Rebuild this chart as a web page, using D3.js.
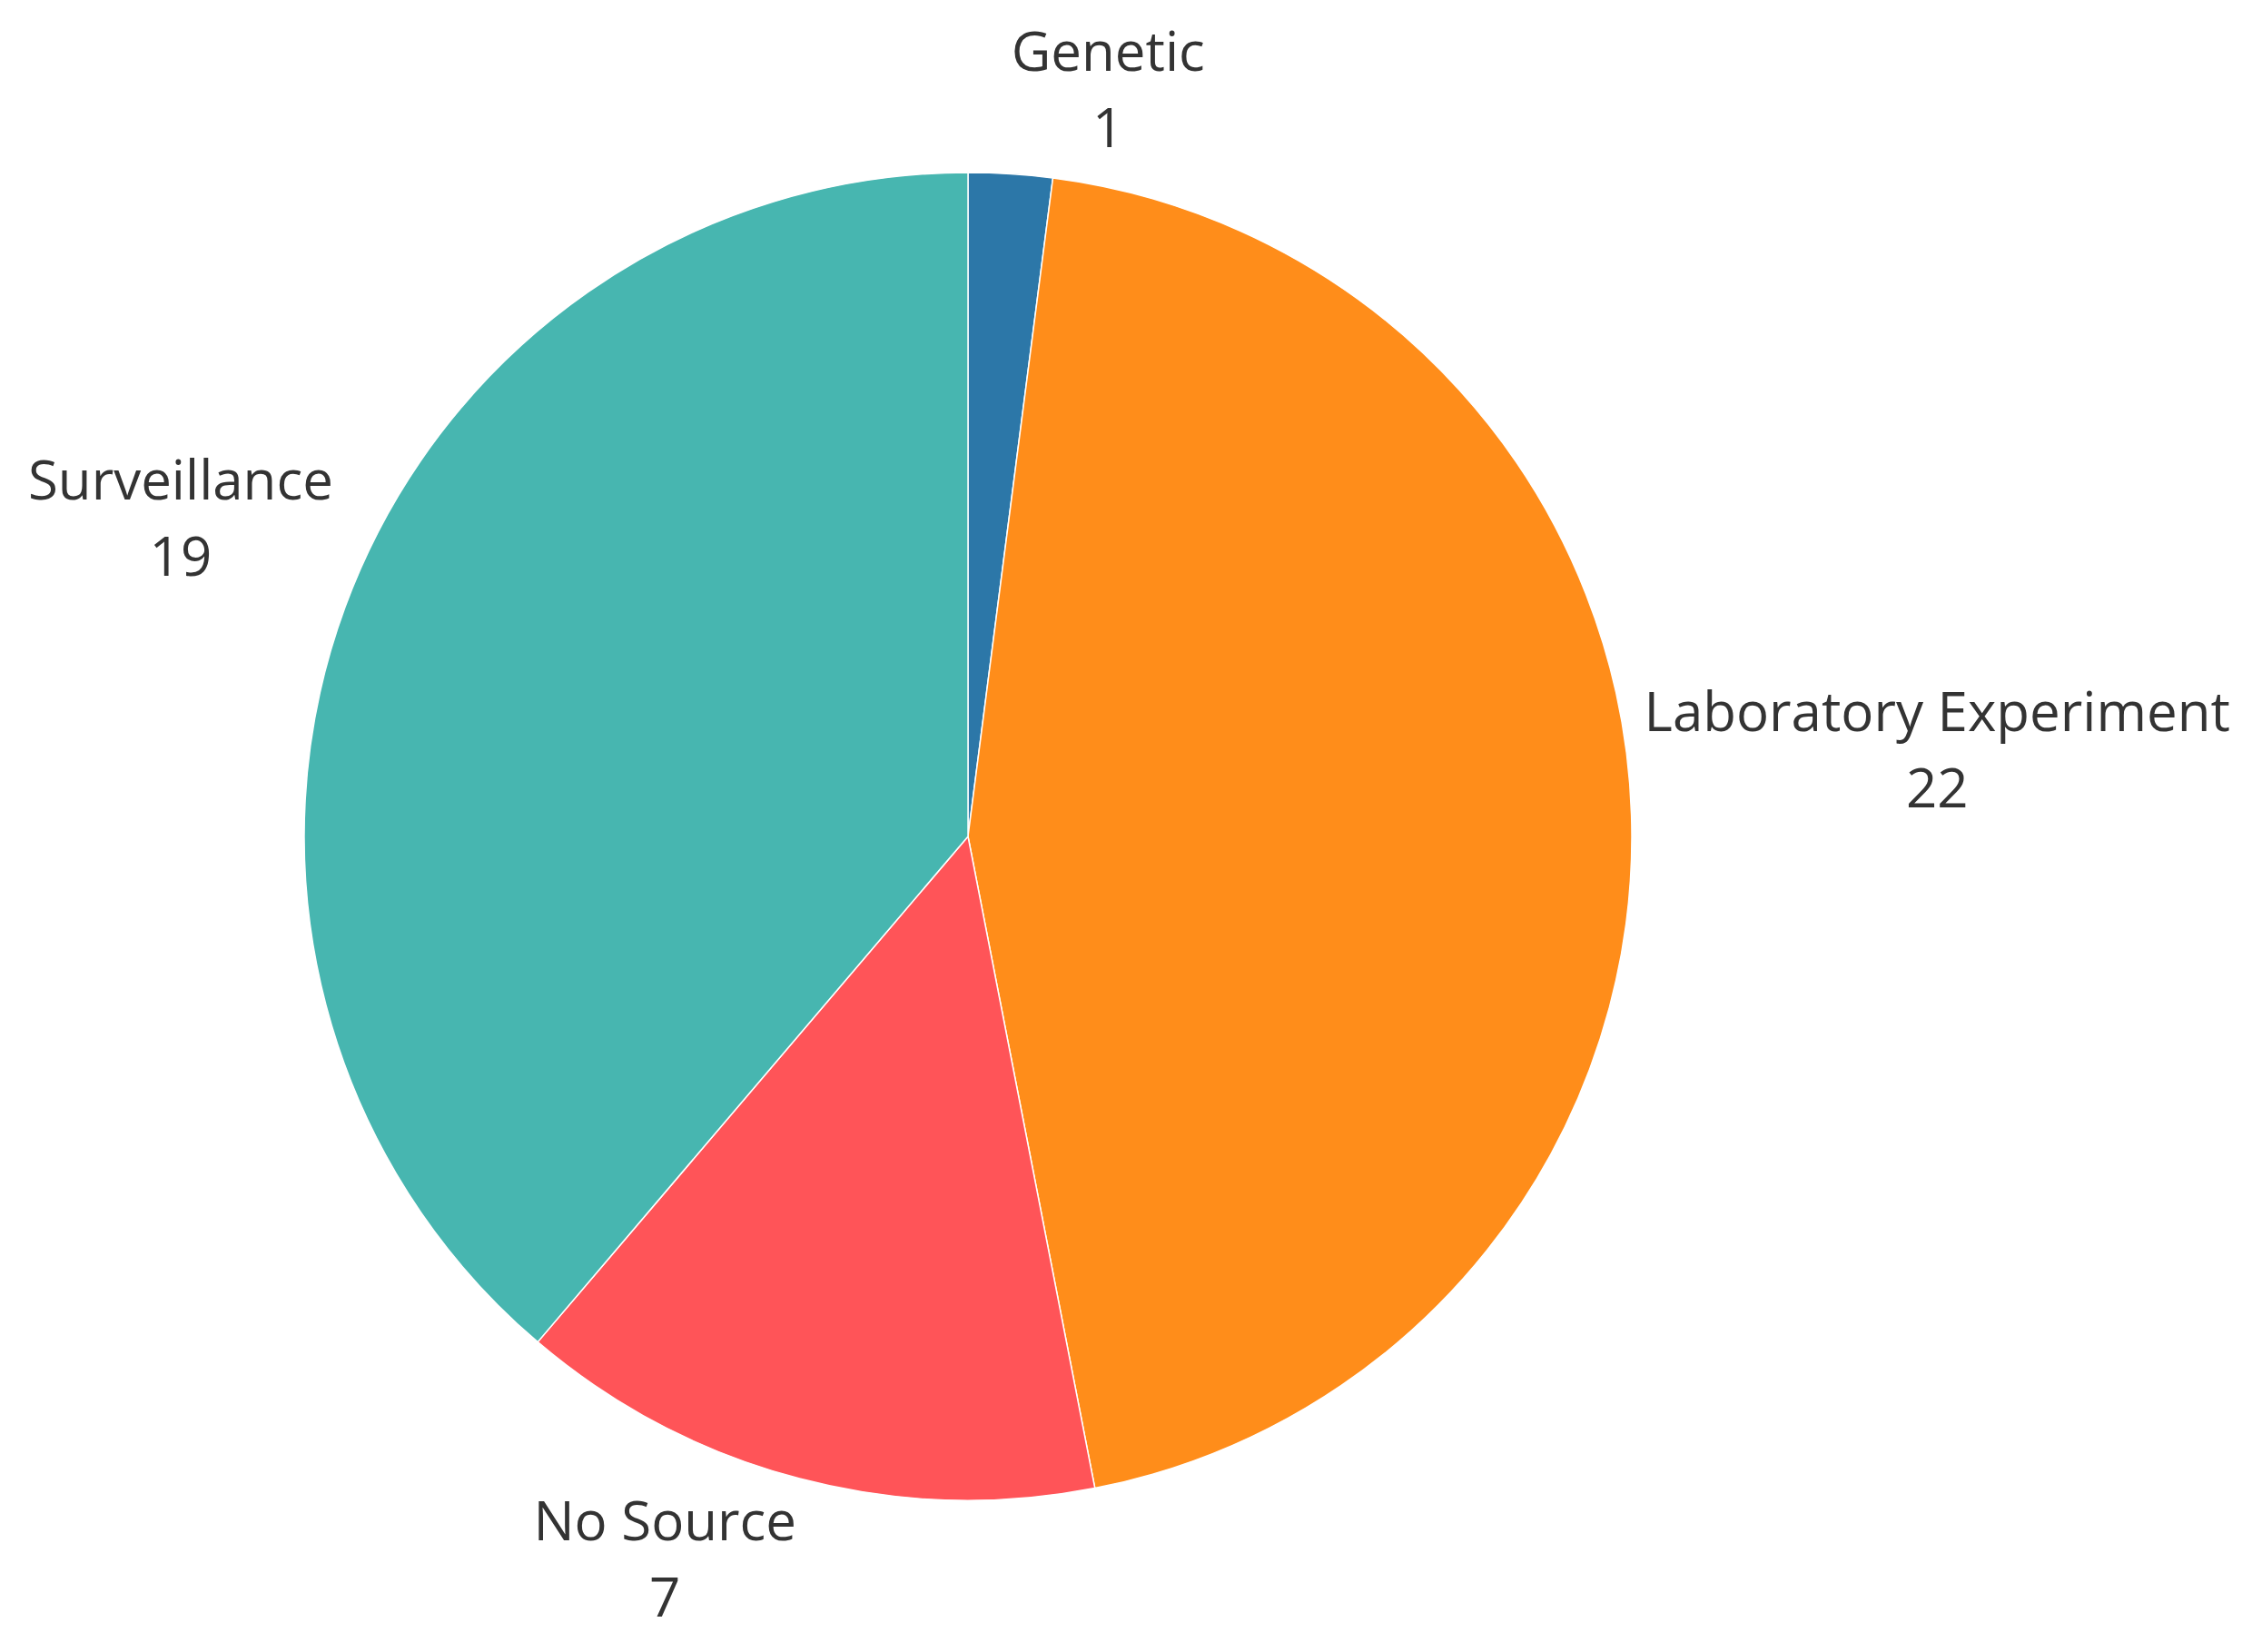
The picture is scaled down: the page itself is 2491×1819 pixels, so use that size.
<!DOCTYPE html>
<html><head><meta charset="utf-8">
<script src="https://cdn.jsdelivr.net/npm/d3@7"></script>
<style>body{margin:0;background:#fff}text{font-family:"Open Sans","Noto Sans",sans-serif;fill:#333}</style>
</head><body>
<svg id="chart" width="2491" height="1819"></svg>
<script>
const categories = ["Genetic", "Laboratory Experiment", "No Source", "Surveillance"];
const counts = [1, 22, 7, 19];
const colors = ["#2c77a8", "#ff8d1a", "#ff5458", "#47b6b0"];

const W = 2491, H = 1819, cx = 1066, cy = 921, R = 731;
const fontSize = 60, lineH = 84, gap = 14;

const svg = d3.select("#chart");
const g = svg.append("g").attr("transform", `translate(${cx},${cy})`);

const data = categories.map((c, i) => ({name: c, value: counts[i], color: colors[i]}));
const pie = d3.pie().value(d => d.value).sort(null);
const arc = d3.arc().innerRadius(0).outerRadius(R);
const arcs = pie(data);

g.selectAll("path.slice").data(arcs).join("path")
    .attr("class", "slice")
    .attr("d", arc)
    .attr("fill", d => d.data.color)
    .attr("stroke", "#fff")
    .attr("stroke-width", 1.5);

// labels sit just outside the slice's mid angle
arcs.forEach(a => {
    let mid = (a.startAngle + a.endAngle) / 2;
    let s = Math.sin(mid), c = Math.cos(mid);
    let px = s * (R + gap), py = -c * (R + gap);
    let lbl = g.append("g");
    let t1 = lbl.append("text").attr("font-size", fontSize).attr("text-anchor", "middle").text(a.data.name);
    let t2 = lbl.append("text").attr("font-size", fontSize).attr("text-anchor", "middle").attr("y", lineH).text(a.data.value);
    let w = Math.max(t1.node().getComputedTextLength(), t2.node().getComputedTextLength());
    let h = lineH + fontSize * 0.4;
    let x = s >= 0 ? px + w / 2 : px - w / 2;
    let top = py - h * (1 + c) / 2 - (32 * c + 80 * Math.abs(s));
    lbl.attr("transform", `translate(${x},${top + fontSize * 0.75})`);
});
</script>
</body></html>
